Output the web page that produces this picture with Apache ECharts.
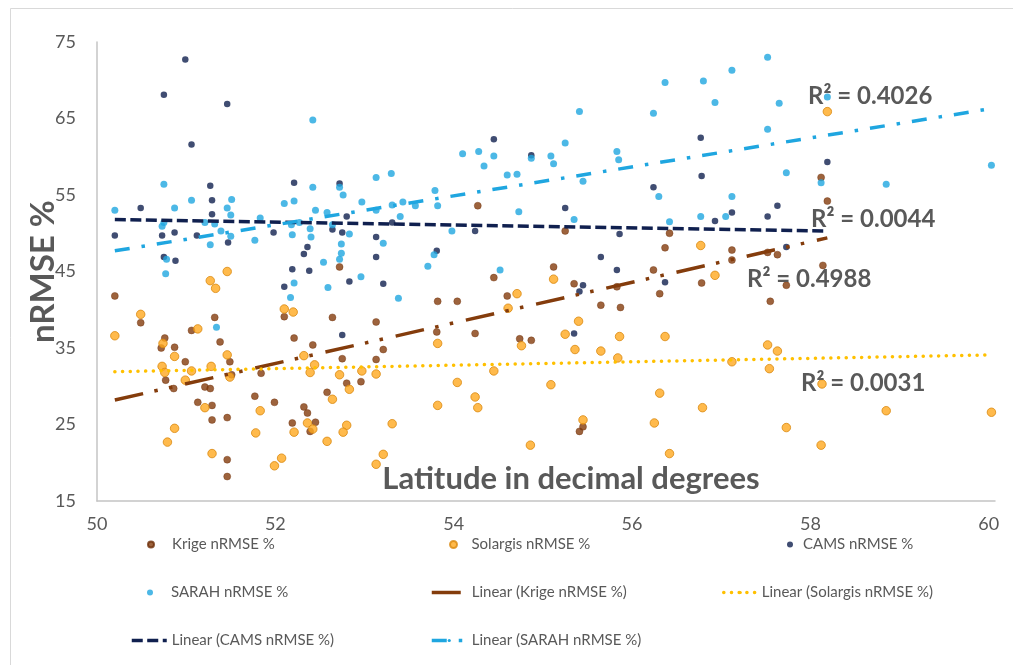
<!DOCTYPE html>
<html>
<head>
<meta charset="utf-8">
<script src="https://cdn.jsdelivr.net/npm/echarts@6/dist/echarts.min.js"></script>
<style>
  html, body { margin: 0; padding: 0; background: #ffffff; }
  #chart { width: 1013px; height: 665px; }
</style>
</head>
<body>
<div id="chart"></div>
<script>
// nRMSE (%) of each irradiance source against station latitude (decimal degrees)
const krige = [
  [50.20,41.8],[50.49,38.3],[51.32,39.0],[52.10,39.1],[51.06,37.3],[50.76,36.3],[50.72,35.0],[50.87,35.1],
  [52.21,36.3],[51.38,35.8],[52.42,35.4],[50.99,33.2],[51.49,33.2],[50.77,30.8],[50.86,29.7],[51.21,29.9],
  [51.27,29.7],[51.51,31.5],[51.84,31.7],[51.13,27.9],[51.29,27.5],[51.29,25.6],[51.46,25.9],[51.77,28.7],
  [51.99,27.9],[52.32,27.3],[52.36,26.5],[52.19,25.2],[52.45,25.3],[52.39,24.1],[51.46,20.4],[51.46,18.2],
  [52.72,45.6],[54.27,53.6],[54.45,44.2],[54.60,41.8],[53.82,41.1],[54.04,41.1],[52.64,39.0],[53.13,38.4],
  [54.24,36.9],[53.81,37.1],[53.21,34.8],[53.13,33.5],[52.75,33.6],[54.74,36.2],[54.87,36.0],[52.80,30.4],
  [52.96,30.6],[52.58,29.2],
  [55.25,50.3],[56.42,50.0],[56.37,48.1],[57.12,47.8],[57.12,46.5],[57.52,47.5],[55.12,45.6],[56.24,45.2],
  [55.35,43.4],[55.83,43.0],[56.78,43.5],[56.31,42.1],[55.65,40.6],[55.87,40.3],[57.55,41.1],[55.41,24.1],
  [55.45,24.7],
  [58.12,57.3],[58.19,54.2],[58.14,45.8],[57.63,47.2],[57.73,43.2]
];

const solargis = [
  [50.20,36.6],[50.49,39.4],[51.46,45.0],[51.27,43.8],[51.33,42.8],[52.10,40.1],[52.20,39.7],[51.13,37.5],
  [50.74,35.6],[50.87,33.9],[51.46,34.1],[50.73,32.6],[50.76,31.8],[51.06,32.0],[51.28,32.6],[50.99,30.8],
  [51.49,31.2],[52.32,34.0],[52.44,32.8],[52.39,31.8],[51.21,27.2],[51.83,26.8],[50.87,24.5],[50.79,22.7],
  [51.78,23.9],[52.21,24.0],[52.36,25.2],[52.42,24.4],[51.29,21.2],[51.99,19.6],[52.07,20.6],
  [54.71,42.1],[54.61,40.2],[53.82,35.6],[54.76,35.3],[52.72,31.5],[52.97,32.0],[53.13,31.6],[52.83,29.6],
  [52.64,28.3],[54.45,32.0],[54.04,30.5],[54.24,28.6],[54.27,27.2],[53.82,27.5],[52.80,24.9],[52.76,24.0],
  [53.31,25.1],[52.58,22.8],[53.21,21.1],[53.13,19.8],[54.86,22.3],
  [55.12,44.0],[56.93,44.5],[56.77,48.4],[55.40,38.5],[55.25,36.8],[55.36,34.8],[55.65,34.6],[55.86,36.5],
  [56.37,36.5],[55.84,33.7],[57.12,33.2],[57.52,35.4],[57.54,32.3],[55.09,30.2],[56.31,29.1],[56.79,27.2],
  [55.45,25.6],[56.25,25.2],[56.42,21.2],
  [58.19,65.9],[57.63,34.6],[58.13,30.3],[58.85,26.8],[60.03,26.6],[57.73,24.6],[58.12,22.3]
];

const cams = [
  [50.99,72.7],[50.75,68.1],[51.46,66.9],[51.06,61.6],[51.27,56.2],[52.21,56.6],[51.29,54.3],[50.49,53.3],
  [51.29,52.5],[50.20,49.7],[50.73,49.7],[50.87,50.1],[51.12,49.7],[51.47,48.8],[50.75,46.9],[50.88,46.4],
  [52.32,47.3],[52.36,48.2],[52.19,45.3],[52.38,45.1],[52.10,43.0],[51.98,50.1],
  [52.72,56.5],[54.45,62.3],[54.87,60.2],[52.80,52.2],[52.64,50.5],[52.75,50.1],[53.13,49.5],[53.31,51.4],
  [53.13,46.9],[53.81,47.7],[54.24,50.3],[52.83,43.7],[53.21,43.4],[52.75,36.7],
  [56.77,62.5],[56.78,57.5],[56.24,56.0],[55.25,53.3],[57.12,52.7],[56.93,51.6],[57.52,52.2],[55.86,49.9],
  [55.65,46.9],[55.83,45.2],[55.45,43.2],[55.41,42.4],[56.37,43.6],[55.35,36.9],
  [58.19,59.3],[57.63,53.6],[57.73,48.2]
];

const sarah = [
  [52.42,64.8],[50.75,56.4],[52.42,56.0],[50.20,53.0],[50.87,53.3],[51.06,54.3],[51.51,54.4],[52.21,54.2],
  [52.10,53.9],[52.45,53.0],[51.46,53.3],[51.50,52.4],[51.83,52.0],[51.21,51.4],[50.75,51.4],[51.32,51.2],
  [52.18,51.1],[52.27,51.4],[51.39,50.3],[52.39,50.6],[50.73,50.9],[51.77,49.1],[51.27,48.5],[52.19,49.8],
  [52.40,49.5],[51.50,49.6],[50.78,46.6],[50.77,44.7],[52.21,43.5],[52.17,41.6],[51.34,37.7],
  [54.10,60.4],[54.28,60.7],[54.45,60.1],[54.34,58.8],[54.87,59.8],[53.30,57.8],[53.13,57.3],[54.60,57.6],
  [54.71,57.7],[53.79,55.6],[52.72,56.0],[52.76,55.0],[52.97,54.1],[53.43,54.1],[53.57,53.6],[53.82,53.6],
  [53.31,53.7],[53.13,53.0],[52.58,52.7],[53.40,52.2],[54.73,52.8],[52.64,51.1],[52.83,49.9],[53.98,50.3],
  [52.74,48.6],[52.74,47.4],[52.72,46.6],[53.21,48.7],[53.78,47.2],[52.54,46.2],[53.71,45.7],[52.96,44.3],
  [52.59,42.9],[53.38,41.5],[54.52,45.2],
  [57.52,73.0],[57.12,71.3],[56.80,69.9],[56.37,69.7],[56.93,67.1],[55.41,65.9],[56.24,65.7],[55.25,61.8],
  [55.09,60.1],[55.12,59.1],[55.83,60.7],[55.85,59.6],[57.52,63.6],[55.45,56.8],[56.30,54.8],[57.12,54.8],
  [55.35,51.8],[56.42,51.5],[56.77,52.2],[57.05,52.2],
  [57.65,67.0],[58.19,67.8],[57.73,57.9],[58.12,56.6],[58.85,56.4],[60.03,58.9]
];

// Linear trend lines: [start, end] over each series' latitude range
const krigeTrend    = [[50.20,28.2],[58.19,49.4]];
const solargisTrend = [[50.20,31.9],[60.03,34.1]];
const camsTrend     = [[50.20,51.8],[58.19,50.3]];
const sarahTrend    = [[50.20,47.7],[60.03,66.3]];

const rSquared = ['R\u00b2 = 0.4026', 'R\u00b2 = 0.0044', 'R\u00b2 = 0.4988', 'R\u00b2 = 0.0031'];

const xTicks = [50, 52, 54, 56, 58, 60];
const yTicks = [15, 25, 35, 45, 55, 65, 75];

const seriesNames = ['Krige nRMSE %', 'Solargis nRMSE %', 'CAMS nRMSE %', 'SARAH nRMSE %'];
const trendNames = ['Linear (Krige nRMSE %)', 'Linear (Solargis nRMSE %)', 'Linear (CAMS nRMSE %)', 'Linear (SARAH nRMSE %)'];

const FONT = 'Lato, "Open Sans", sans-serif';
const GREY = '#595959';
const C_KRIGE = '#843c0c';
const C_SOLAR = '#ffa91f';
const C_SOLAR_EDGE = '#d9880f';
const C_CAMS = '#10204f';
const C_SARAH = '#1fa6e0';
const C_SOLAR_TREND = '#ffc000';

const chart = echarts.init(document.getElementById('chart'), null, { renderer: 'canvas' });

function legendEntry(name, left, centerY, w, h, lineWidth) {
  const o = {
    data: [name],
    left: left,
    top: centerY - 8,
    orient: 'horizontal',
    padding: 0,
    itemWidth: w,
    itemHeight: h,
    selectedMode: false,
    textStyle: { color: GREY, fontSize: 15, fontFamily: FONT }
  };
  if (lineWidth) o.lineStyle = { width: lineWidth };
  return o;
}

const option = {
  backgroundColor: '#ffffff',
  animation: false,
  grid: { left: 97, right: 18, top: 42, bottom: 164, containLabel: false },
  xAxis: {
    type: 'value',
    min: 50,
    max: 60.07,
    interval: 2,
    axisLine: { show: true, lineStyle: { color: '#c4c4c4', width: 1.5 } },
    axisTick: { show: false },
    splitLine: { show: false },
    axisLabel: {
      color: GREY, fontSize: 18, fontFamily: FONT, margin: 14,
      formatter: v => (xTicks.some(t => Math.abs(t - v) < 1e-6) ? String(v) : '')
    }
  },
  yAxis: {
    type: 'value',
    min: 15,
    max: 75,
    interval: 5,
    name: 'nRMSE %',
    nameLocation: 'middle',
    nameRotate: 90,
    nameGap: 37,
    nameMoveOverlap: false,
    nameTextStyle: { color: GREY, fontSize: 33, fontWeight: 'bold', fontFamily: FONT },
    axisLine: { show: true, lineStyle: { color: '#c4c4c4', width: 1.5 } },
    axisTick: { show: false },
    splitLine: { show: false },
    axisLabel: {
      color: GREY, fontSize: 18, fontFamily: FONT, margin: 21,
      formatter: v => (yTicks.some(t => Math.abs(t - v) < 1e-6) ? String(v) : '')
    }
  },
  legend: [
    legendEntry(seriesNames[0], 147, 545, 32, 6),
    legendEntry(seriesNames[1], 449, 545, 26, 7),
    legendEntry(seriesNames[2], 787, 545, 16, 6),
    legendEntry(seriesNames[3], 147, 593, 32, 6),
    legendEntry(trendNames[0], 430, 593, 35, 4, 3.5),
    legendEntry(trendNames[1], 722, 593, 33, 4, 3.5),
    legendEntry(trendNames[2], 130, 641, 35, 4, 3.5),
    legendEntry(trendNames[3], 430, 641, 35, 4, 3.5)
  ],
  graphic: [
    {
      type: 'rect', silent: true,
      shape: { x: 10.5, y: 8.5, width: 1020, height: 680 },
      style: { fill: 'none', stroke: '#d9d9d9', lineWidth: 1 }
    },
    {
      type: 'text', silent: true, x: 571, y: 479, z: 10,
      style: { text: 'Latitude in decimal degrees', font: 'bold 31px ' + FONT, fill: GREY, textAlign: 'center', textVerticalAlign: 'middle' }
    },
    { type: 'text', silent: true, x: 808, y: 96, z: 10,
      style: { text: rSquared[0], font: 'bold 24px ' + FONT, fill: GREY, textVerticalAlign: 'middle' } },
    { type: 'text', silent: true, x: 811, y: 219, z: 10,
      style: { text: rSquared[1], font: 'bold 24px ' + FONT, fill: GREY, textVerticalAlign: 'middle' } },
    { type: 'text', silent: true, x: 747, y: 279, z: 10,
      style: { text: rSquared[2], font: 'bold 24px ' + FONT, fill: GREY, textVerticalAlign: 'middle' } },
    { type: 'text', silent: true, x: 801, y: 383, z: 10,
      style: { text: rSquared[3], font: 'bold 24px ' + FONT, fill: GREY, textVerticalAlign: 'middle' } }
  ],
  series: [
    { name: seriesNames[0], type: 'scatter', data: krige, symbolSize: 7, z: 2,
      itemStyle: { color: C_KRIGE, borderColor: '#6e300a', borderWidth: 0.5 } },
    { name: seriesNames[1], type: 'scatter', data: solargis, symbolSize: 8.5, z: 2,
      itemStyle: { color: C_SOLAR, borderColor: C_SOLAR_EDGE, borderWidth: 1 } },
    { name: seriesNames[2], type: 'scatter', data: cams, symbolSize: 6.5, z: 2,
      itemStyle: { color: C_CAMS } },
    { name: seriesNames[3], type: 'scatter', data: sarah, symbolSize: 7, z: 2,
      itemStyle: { color: C_SARAH } },
    { name: trendNames[0], type: 'line', data: krigeTrend, symbol: 'none', z: 3,
      itemStyle: { color: C_KRIGE },
      lineStyle: { color: C_KRIGE, width: 3.5, type: [29, 11.5, 3.5, 11.5, 3.5, 13] } },
    { name: trendNames[1], type: 'line', data: solargisTrend, symbol: 'none', z: 3,
      itemStyle: { color: C_SOLAR_TREND },
      lineStyle: { color: C_SOLAR_TREND, width: 3.5, type: [0.1, 7.6], cap: 'round' } },
    { name: trendNames[2], type: 'line', data: camsTrend, symbol: 'none', z: 3,
      itemStyle: { color: C_CAMS },
      lineStyle: { color: C_CAMS, width: 3.5, type: [11, 4.5] } },
    { name: trendNames[3], type: 'line', data: sarahTrend, symbol: 'none', z: 3,
      itemStyle: { color: C_SARAH },
      lineStyle: { color: C_SARAH, width: 3.5, type: [15, 12, 3.5, 12] } }
  ]
};

chart.setOption(option);
</script>
</body>
</html>
